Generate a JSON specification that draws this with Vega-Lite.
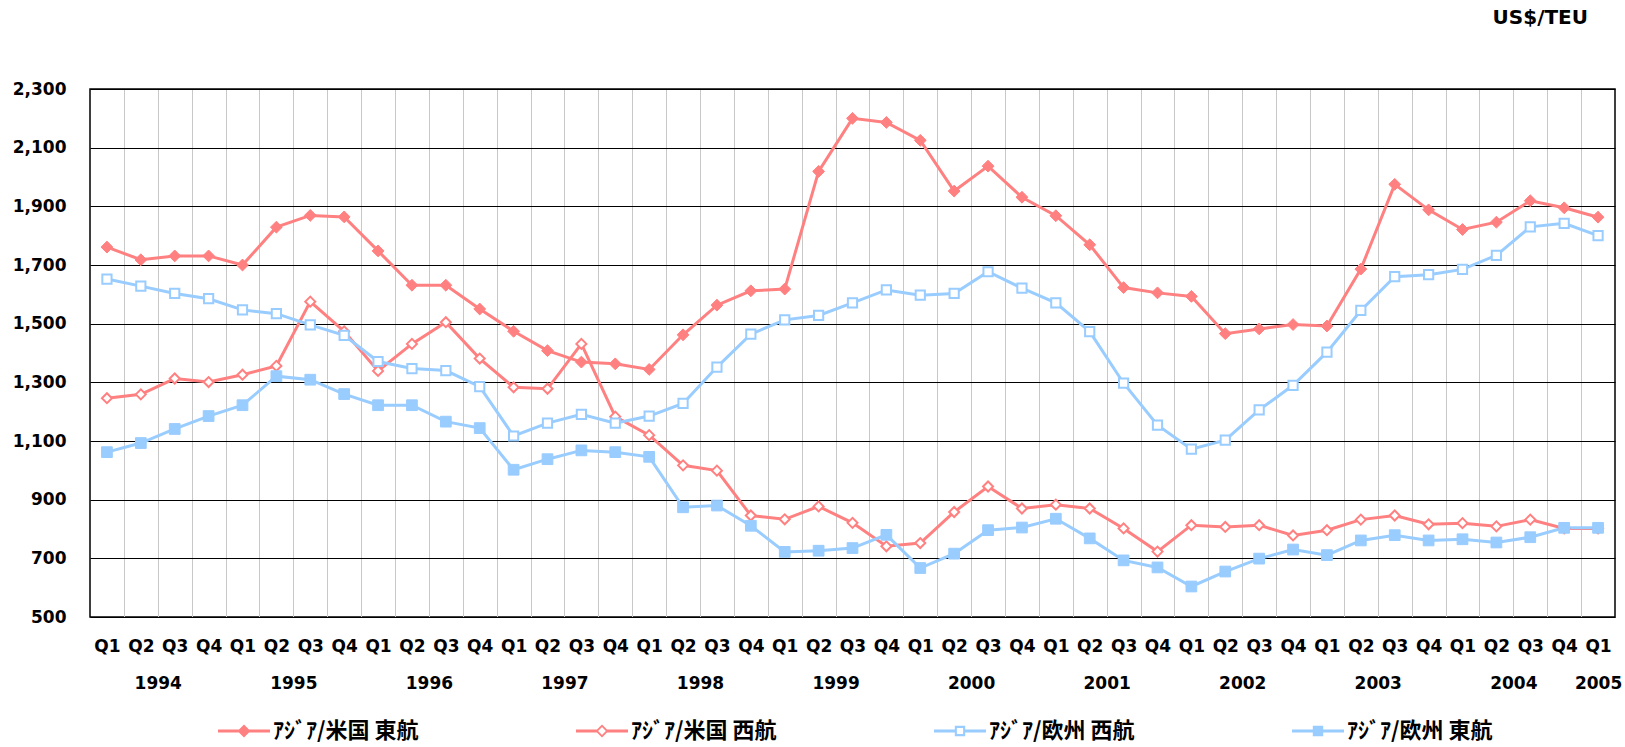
{
  "$schema": "https://vega.github.io/schema/vega-lite/v6.json",
  "width": 1525,
  "height": 528,
  "autosize": "none",
  "padding": {"left": 90, "top": 89, "right": 10, "bottom": 130},
  "background": "white",
  "config": {"view": {"stroke": "#000", "strokeWidth": 1.5}, "font": "DejaVu Sans"},
  "title": {"text": "US$/TEU", "anchor": "end", "frame": "group", "orient": "top", "offset": 36, "baseline": "alphabetic", "dx": -27, "font": "DejaVu Sans", "fontSize": 20, "fontWeight": "bold", "color": "#000"},
  "data": {"values": [
    {"i":0,"ｱｼﾞｱ/米国 東航":1761,"ｱｼﾞｱ/米国 西航":1246,"ｱｼﾞｱ/欧州 西航":1652,"ｱｼﾞｱ/欧州 東航":1062},
    {"i":1,"ｱｼﾞｱ/米国 東航":1718,"ｱｼﾞｱ/米国 西航":1259,"ｱｼﾞｱ/欧州 西航":1628,"ｱｼﾞｱ/欧州 東航":1093},
    {"i":2,"ｱｼﾞｱ/米国 東航":1731,"ｱｼﾞｱ/米国 西航":1313,"ｱｼﾞｱ/欧州 西航":1603,"ｱｼﾞｱ/欧州 東航":1141},
    {"i":3,"ｱｼﾞｱ/米国 東航":1731,"ｱｼﾞｱ/米国 西航":1301,"ｱｼﾞｱ/欧州 西航":1585,"ｱｼﾞｱ/欧州 東航":1185},
    {"i":4,"ｱｼﾞｱ/米国 東航":1700,"ｱｼﾞｱ/米国 西航":1326,"ｱｼﾞｱ/欧州 西航":1547,"ｱｼﾞｱ/欧州 東航":1222},
    {"i":5,"ｱｼﾞｱ/米国 東航":1829,"ｱｼﾞｱ/米国 西航":1356,"ｱｼﾞｱ/欧州 西航":1534,"ｱｼﾞｱ/欧州 東航":1321},
    {"i":6,"ｱｼﾞｱ/米国 東航":1869,"ｱｼﾞｱ/米国 西航":1575,"ｱｼﾞｱ/欧州 西航":1496,"ｱｼﾞｱ/欧州 東航":1309},
    {"i":7,"ｱｼﾞｱ/米国 東航":1864,"ｱｼﾞｱ/米国 西航":1474,"ｱｼﾞｱ/欧州 西航":1460,"ｱｼﾞｱ/欧州 東航":1260},
    {"i":8,"ｱｼﾞｱ/米国 東航":1748,"ｱｼﾞｱ/米国 西航":1339,"ｱｼﾞｱ/欧州 西航":1371,"ｱｼﾞｱ/欧州 東航":1222},
    {"i":9,"ｱｼﾞｱ/米国 東航":1631,"ｱｼﾞｱ/米国 西航":1431,"ｱｼﾞｱ/欧州 西航":1347,"ｱｼﾞｱ/欧州 東航":1222},
    {"i":10,"ｱｼﾞｱ/米国 東航":1631,"ｱｼﾞｱ/米国 西航":1505,"ｱｼﾞｱ/欧州 西航":1340,"ｱｼﾞｱ/欧州 東航":1166},
    {"i":11,"ｱｼﾞｱ/米国 東航":1550,"ｱｼﾞｱ/米国 西航":1381,"ｱｼﾞｱ/欧州 西航":1285,"ｱｼﾞｱ/欧州 東航":1144},
    {"i":12,"ｱｼﾞｱ/米国 東航":1474,"ｱｼﾞｱ/米国 西航":1283,"ｱｼﾞｱ/欧州 西航":1117,"ｱｼﾞｱ/欧州 東航":1002},
    {"i":13,"ｱｼﾞｱ/米国 東航":1408,"ｱｼﾞｱ/米国 西航":1278,"ｱｼﾞｱ/欧州 西航":1161,"ｱｼﾞｱ/欧州 東航":1038},
    {"i":14,"ｱｼﾞｱ/米国 東航":1369,"ｱｼﾞｱ/米国 西航":1431,"ｱｼﾞｱ/欧州 西航":1191,"ｱｼﾞｱ/欧州 東航":1068},
    {"i":15,"ｱｼﾞｱ/米国 東航":1363,"ｱｼﾞｱ/米国 西航":1183,"ｱｼﾞｱ/欧州 西航":1161,"ｱｼﾞｱ/欧州 東航":1062},
    {"i":16,"ｱｼﾞｱ/米国 東航":1344,"ｱｼﾞｱ/米国 西航":1120,"ｱｼﾞｱ/欧州 西航":1185,"ｱｼﾞｱ/欧州 東航":1046},
    {"i":17,"ｱｼﾞｱ/米国 東航":1462,"ｱｼﾞｱ/米国 西航":1017,"ｱｼﾞｱ/欧州 西航":1228,"ｱｼﾞｱ/欧州 東航":874},
    {"i":18,"ｱｼﾞｱ/米国 東航":1563,"ｱｼﾞｱ/米国 西航":999,"ｱｼﾞｱ/欧州 西航":1352,"ｱｼﾞｱ/欧州 東航":880},
    {"i":19,"ｱｼﾞｱ/米国 東航":1612,"ｱｼﾞｱ/米国 西航":846,"ｱｼﾞｱ/欧州 西航":1464,"ｱｼﾞｱ/欧州 東航":811},
    {"i":20,"ｱｼﾞｱ/米国 東航":1618,"ｱｼﾞｱ/米国 西航":833,"ｱｼﾞｱ/欧州 西航":1513,"ｱｼﾞｱ/欧州 東航":722},
    {"i":21,"ｱｼﾞｱ/米国 東航":2019,"ｱｼﾞｱ/米国 西航":877,"ｱｼﾞｱ/欧州 西航":1528,"ｱｼﾞｱ/欧州 東航":726},
    {"i":22,"ｱｼﾞｱ/米国 東航":2200,"ｱｼﾞｱ/米国 西航":821,"ｱｼﾞｱ/欧州 西航":1571,"ｱｼﾞｱ/欧州 東航":735},
    {"i":23,"ｱｼﾞｱ/米国 東航":2186,"ｱｼﾞｱ/米国 西航":741,"ｱｼﾞｱ/欧州 西航":1615,"ｱｼﾞｱ/欧州 東航":780},
    {"i":24,"ｱｼﾞｱ/米国 東航":2125,"ｱｼﾞｱ/米国 西航":752,"ｱｼﾞｱ/欧州 西航":1597,"ｱｼﾞｱ/欧州 東航":667},
    {"i":25,"ｱｼﾞｱ/米国 東航":1952,"ｱｼﾞｱ/米国 西航":858,"ｱｼﾞｱ/欧州 西航":1603,"ｱｼﾞｱ/欧州 東航":716},
    {"i":26,"ｱｼﾞｱ/米国 東航":2037,"ｱｼﾞｱ/米国 西航":945,"ｱｼﾞｱ/欧州 西航":1677,"ｱｼﾞｱ/欧州 東航":796},
    {"i":27,"ｱｼﾞｱ/米国 東航":1931,"ｱｼﾞｱ/米国 西航":870,"ｱｼﾞｱ/欧州 西航":1621,"ｱｼﾞｱ/欧州 東航":805},
    {"i":28,"ｱｼﾞｱ/米国 東航":1868,"ｱｼﾞｱ/米国 西航":883,"ｱｼﾞｱ/欧州 西航":1571,"ｱｼﾞｱ/欧州 東航":835},
    {"i":29,"ｱｼﾞｱ/米国 東航":1769,"ｱｼﾞｱ/米国 西航":870,"ｱｼﾞｱ/欧州 西航":1473,"ｱｼﾞｱ/欧州 東航":768},
    {"i":30,"ｱｼﾞｱ/米国 東航":1623,"ｱｼﾞｱ/米国 西航":802,"ｱｼﾞｱ/欧州 西航":1297,"ｱｼﾞｱ/欧州 東航":693},
    {"i":31,"ｱｼﾞｱ/米国 東航":1605,"ｱｼﾞｱ/米国 西航":723,"ｱｼﾞｱ/欧州 西航":1154,"ｱｼﾞｱ/欧州 東航":669},
    {"i":32,"ｱｼﾞｱ/米国 東航":1593,"ｱｼﾞｱ/米国 西航":813,"ｱｼﾞｱ/欧州 西航":1072,"ｱｼﾞｱ/欧州 東航":604},
    {"i":33,"ｱｼﾞｱ/米国 東航":1466,"ｱｼﾞｱ/米国 西航":807,"ｱｼﾞｱ/欧州 西航":1103,"ｱｼﾞｱ/欧州 東航":655},
    {"i":34,"ｱｼﾞｱ/米国 東航":1482,"ｱｼﾞｱ/米国 西航":813,"ｱｼﾞｱ/欧州 西航":1206,"ｱｼﾞｱ/欧州 東航":699},
    {"i":35,"ｱｼﾞｱ/米国 東航":1497,"ｱｼﾞｱ/米国 西航":778,"ｱｼﾞｱ/欧州 西航":1290,"ｱｼﾞｱ/欧州 東航":730},
    {"i":36,"ｱｼﾞｱ/米国 東航":1492,"ｱｼﾞｱ/米国 西航":796,"ｱｼﾞｱ/欧州 西航":1403,"ｱｼﾞｱ/欧州 東航":711},
    {"i":37,"ｱｼﾞｱ/米国 東航":1686,"ｱｼﾞｱ/米国 西航":832,"ｱｼﾞｱ/欧州 西航":1545,"ｱｼﾞｱ/欧州 東航":761},
    {"i":38,"ｱｼﾞｱ/米国 東航":1975,"ｱｼﾞｱ/米国 西航":846,"ｱｼﾞｱ/欧州 西航":1660,"ｱｼﾞｱ/欧州 東航":779},
    {"i":39,"ｱｼﾞｱ/米国 東航":1888,"ｱｼﾞｱ/米国 西航":816,"ｱｼﾞｱ/欧州 西航":1667,"ｱｼﾞｱ/欧州 東航":761},
    {"i":40,"ｱｼﾞｱ/米国 東航":1821,"ｱｼﾞｱ/米国 西航":820,"ｱｼﾞｱ/欧州 西航":1685,"ｱｼﾞｱ/欧州 東航":765},
    {"i":41,"ｱｼﾞｱ/米国 東航":1846,"ｱｼﾞｱ/米国 西航":809,"ｱｼﾞｱ/欧州 西航":1733,"ｱｼﾞｱ/欧州 東航":754},
    {"i":42,"ｱｼﾞｱ/米国 東航":1919,"ｱｼﾞｱ/米国 西航":832,"ｱｼﾞｱ/欧州 西航":1830,"ｱｼﾞｱ/欧州 東航":772},
    {"i":43,"ｱｼﾞｱ/米国 東航":1895,"ｱｼﾞｱ/米国 西航":802,"ｱｼﾞｱ/欧州 西航":1842,"ｱｼﾞｱ/欧州 東航":804},
    {"i":44,"ｱｼﾞｱ/米国 東航":1863,"ｱｼﾞｱ/米国 西航":802,"ｱｼﾞｱ/欧州 西航":1800,"ｱｼﾞｱ/欧州 東航":804}
  ]},
  "transform": [
    {"fold": ["ｱｼﾞｱ/米国 東航", "ｱｼﾞｱ/米国 西航", "ｱｼﾞｱ/欧州 西航", "ｱｼﾞｱ/欧州 東航"], "as": ["s", "v"]}
  ],
  "encoding": {
    "y": {
      "field": "v", "type": "quantitative",
      "scale": {"domain": [500, 2300], "nice": false, "zero": false},
      "axis": {
        "values": [500, 700, 900, 1100, 1300, 1500, 1700, 1900, 2100, 2300],
        "format": ",d", "grid": true, "gridColor": "#000", "gridWidth": 1,
        "ticks": false, "tickSize": 0, "domain": false, "labelPadding": 24,
        "labelFont": "DejaVu Sans", "labelFontSize": 17, "labelFontWeight": "bold", "labelColor": "#000",
        "title": null
      }
    }
  },
  "layer": [
    {
      "mark": {"type": "line", "strokeWidth": 3},
      "encoding": {
        "x": {
          "field": "i", "type": "quantitative",
          "scale": {"domain": [-0.5, 44.5], "nice": false, "zero": false},
          "axis": {
            "orient": "bottom",
            "values": [0.5,1.5,2.5,3.5,4.5,5.5,6.5,7.5,8.5,9.5,10.5,11.5,12.5,13.5,14.5,15.5,16.5,17.5,18.5,19.5,20.5,21.5,22.5,23.5,24.5,25.5,26.5,27.5,28.5,29.5,30.5,31.5,32.5,33.5,34.5,35.5,36.5,37.5,38.5,39.5,40.5,41.5,42.5,43.5,44],
            "labelExpr": "datum.value == 44 ? '2005' : ((datum.value - 1.5) % 4 == 0 ? '' + (1994 + (datum.value - 1.5) / 4) : '')",
            "grid": true, "gridColor": "#c8c8c8", "gridWidth": 1,
            "gridOpacity": {"condition": {"test": "datum.value == 44", "value": 0}, "value": 1},
            "ticks": false, "tickSize": 0, "domain": false, "labelPadding": 58,
            "labelFont": "DejaVu Sans", "labelFontSize": 17, "labelFontWeight": "bold", "labelColor": "#000",
            "labelOverlap": false, "labelFlush": false, "labelBound": false,
            "title": null
          }
        },
        "color": {
          "field": "s", "type": "nominal",
          "scale": {"domain": ["ｱｼﾞｱ/米国 東航", "ｱｼﾞｱ/米国 西航", "ｱｼﾞｱ/欧州 西航", "ｱｼﾞｱ/欧州 東航"], "range": ["#FF8080", "#FF8080", "#99CCFF", "#99CCFF"]},
          "legend": {
            "orient": "none", "legendX": 128, "legendY": 616,
            "direction": "horizontal", "columns": 4, "title": null,
            "symbolSize": 2704,
            "labelFont": "Noto Sans CJK JP", "labelFontSize": 22, "labelFontWeight": "bold", "labelColor": "#000",
            "labelOffset": 3, "columnPadding": 157, "gridAlign": "all", "labelLimit": 400,
            "encode": {
              "symbols": {
                "update": {
                  "shape": {"signal": "datum.value == 'ｱｼﾞｱ/米国 東航' ? 'M-1,-0.058H1V0.058H-1Z M0,-0.25L0.25,0L0,0.25L-0.25,0Z' : datum.value == 'ｱｼﾞｱ/米国 西航' ? 'M-1,-0.058H-0.2V0.058H-1Z M0.2,-0.058H1V0.058H0.2Z M0,-0.25L0.25,0L0,0.25L-0.25,0Z M0,-0.15L-0.15,0L0,0.15L0.15,0Z' : datum.value == 'ｱｼﾞｱ/欧州 西航' ? 'M-1,-0.058H-0.16V0.058H-1Z M0.16,-0.058H1V0.058H0.16Z M-0.2,-0.2H0.2V0.2H-0.2Z M-0.12,-0.12V0.12H0.12V-0.12Z' : 'M-1,-0.058H1V0.058H-1Z M-0.2,-0.2H0.2V0.2H-0.2Z'"},
                  "size": {"value": 2704},
                  "fill": {"signal": "indexof(['ｱｼﾞｱ/米国 東航', 'ｱｼﾞｱ/米国 西航'], datum.value) >= 0 ? '#FF8080' : '#99CCFF'"},
                  "fillOpacity": {"value": 1},
                  "strokeWidth": {"value": 0},
                  "opacity": {"value": 1}
                }
              }
            }
          }
        }
      }
    },
    {
      "transform": [{"filter": "datum.s == 'ｱｼﾞｱ/米国 東航'"}],
      "mark": {"type": "point", "shape": "diamond", "filled": true, "fill": "#FF8080", "stroke": "#FF8080", "strokeWidth": 1, "size": 140, "opacity": 1},
      "encoding": {
        "x": {
          "field": "i", "type": "quantitative",
          "scale": {"domain": [-0.5, 44.5], "nice": false, "zero": false},
          "axis": {
            "orient": "bottom",
            "values": [0,1,2,3,4,5,6,7,8,9,10,11,12,13,14,15,16,17,18,19,20,21,22,23,24,25,26,27,28,29,30,31,32,33,34,35,36,37,38,39,40,41,42,43,44],
            "labelExpr": "'Q' + (datum.value % 4 + 1)",
            "grid": false, "ticks": false, "tickSize": 0, "domain": false, "labelPadding": 21,
            "labelFont": "DejaVu Sans", "labelFontSize": 17, "labelFontWeight": "bold", "labelColor": "#000",
            "labelOverlap": false, "labelFlush": false, "labelBound": false,
            "title": null
          }
        }
      }
    },
    {
      "transform": [{"filter": "datum.s == 'ｱｼﾞｱ/米国 西航'"}],
      "mark": {"type": "point", "shape": "diamond", "filled": false, "fill": "#FFFFFF", "fillOpacity": 1, "stroke": "#FF8080", "strokeWidth": 2, "size": 100, "opacity": 1},
      "encoding": {
        "x": {"field": "i", "type": "quantitative", "scale": {"domain": [-0.5, 44.5], "nice": false, "zero": false}, "axis": null}
      }
    },
    {
      "transform": [{"filter": "datum.s == 'ｱｼﾞｱ/欧州 西航'"}],
      "mark": {"type": "point", "shape": "square", "filled": false, "fill": "#FFFFFF", "fillOpacity": 1, "stroke": "#99CCFF", "strokeWidth": 2, "size": 85, "opacity": 1},
      "encoding": {
        "x": {"field": "i", "type": "quantitative", "scale": {"domain": [-0.5, 44.5], "nice": false, "zero": false}, "axis": null}
      }
    },
    {
      "transform": [{"filter": "datum.s == 'ｱｼﾞｱ/欧州 東航'"}],
      "mark": {"type": "point", "shape": "square", "filled": true, "fill": "#99CCFF", "stroke": "#99CCFF", "strokeWidth": 1, "size": 115, "opacity": 1},
      "encoding": {
        "x": {"field": "i", "type": "quantitative", "scale": {"domain": [-0.5, 44.5], "nice": false, "zero": false}, "axis": null}
      }
    }
  ],
  "resolve": {"axis": {"x": "independent"}}
}
